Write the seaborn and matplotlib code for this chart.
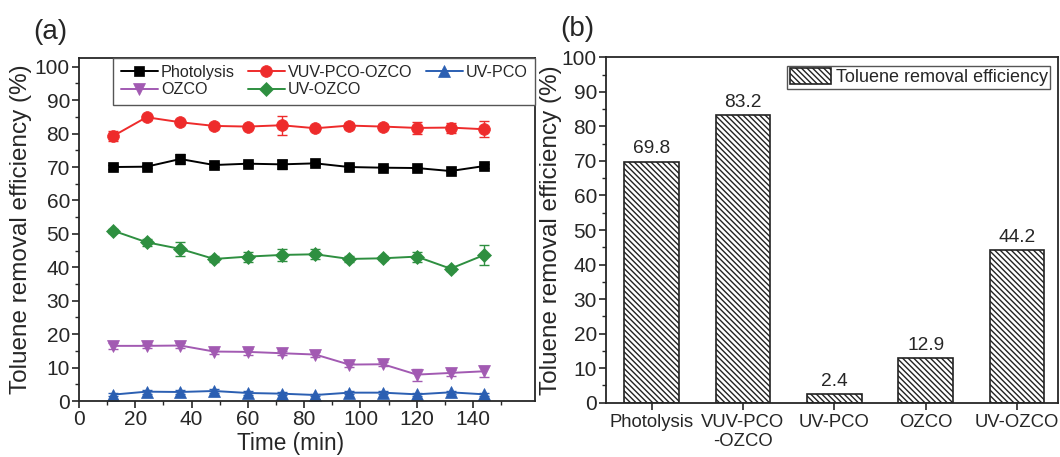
import numpy as np
import pandas as pd
import matplotlib
matplotlib.use("Agg")
import matplotlib.pyplot as plt
from matplotlib.patches import Patch
import seaborn as sns

# ---------------- data ----------------
time_min = [12, 24, 36, 48, 60, 72, 84, 96, 108, 120, 132, 144]

photolysis = [70.0, 70.1, 72.4, 70.6, 71.0, 70.8, 71.1, 70.0, 69.8, 69.7, 68.8, 70.3]
photolysis_err = [0.5, 0.5, 1.6, 0.6, 0.5, 1.3, 0.5, 0.5, 0.4, 0.4, 0.4, 0.5]

vuv_pco_ozco = [79.2, 84.9, 83.4, 82.3, 82.1, 82.5, 81.6, 82.4, 82.1, 81.7, 81.8, 81.3]
vuv_pco_ozco_err = [1.5, 0.8, 0.6, 0.8, 0.6, 2.9, 0.6, 0.9, 0.8, 1.7, 1.5, 2.4]

uv_pco = [1.9, 2.8, 2.7, 3.0, 2.4, 2.2, 1.8, 2.5, 2.5, 2.0, 2.6, 2.0]
uv_pco_err = [0.4, 0.6, 0.6, 0.6, 0.5, 0.4, 0.4, 0.5, 0.5, 0.4, 0.5, 0.4]

ozco = [16.5, 16.5, 16.6, 14.8, 14.7, 14.3, 13.9, 10.9, 11.0, 7.9, 8.4, 8.9]
ozco_err = [0.8, 0.7, 0.8, 0.8, 0.8, 0.6, 0.7, 0.6, 0.6, 1.8, 0.8, 1.7]

uv_ozco = [51.0, 47.5, 45.5, 42.5, 43.2, 43.7, 43.9, 42.5, 42.7, 43.2, 39.6, 43.7]
uv_ozco_err = [0.6, 1.0, 2.0, 0.8, 1.5, 1.7, 1.5, 0.8, 0.6, 1.5, 0.8, 2.9]

bar_categories = ["Photolysis", "VUV-PCO\n-OZCO", "UV-PCO", "OZCO", "UV-OZCO"]
bar_values = [69.8, 83.2, 2.4, 12.9, 44.2]

series_names = ["Photolysis", "VUV-PCO-OZCO", "UV-PCO", "OZCO", "UV-OZCO"]
series_vals = [photolysis, vuv_pco_ozco, uv_pco, ozco, uv_ozco]
series_errs = [photolysis_err, vuv_pco_ozco_err, uv_pco_err, ozco_err, uv_ozco_err]
series_colors = ["#000000", "#ee2b2b", "#2b5fb2", "#a25ab2", "#2e8f40"]
series_markers = ["s", "o", "^", "v", "D"]
series_msize = [7.5, 8.5, 8, 8, 7.5]

HATCH = "\\\\\\\\\\\\"

# ---------------- style ----------------
sns.set_style("ticks")
plt.rcParams["font.family"] = ["Liberation Sans", "DejaVu Sans"]
plt.rcParams["hatch.linewidth"] = 1.0
plt.rcParams["axes.linewidth"] = 1.3

fig = plt.figure(figsize=(10.6, 4.57), dpi=100)
ax1 = fig.add_axes([0.0745, 0.1225, 0.4302, 0.7512])
ax2 = fig.add_axes([0.5717, 0.1188, 0.4264, 0.7558])

# ---------------- panel (a) ----------------
for name, vals, errs, col, mk, ms in zip(series_names, series_vals, series_errs,
                                          series_colors, series_markers, series_msize):
    df = pd.DataFrame({"time": time_min, "value": vals})
    sns.lineplot(data=df, x="time", y="value", ax=ax1, color=col, marker=mk,
                 markersize=ms, markeredgecolor=col, markeredgewidth=0.5,
                 linewidth=1.4, label=name, errorbar=None)
    ax1.errorbar(time_min, vals, yerr=errs, fmt="none", ecolor=col,
                 elinewidth=1.0, capsize=3.5, capthick=1.0, zorder=1)

h, l = ax1.get_legend_handles_labels()
hd = dict(zip(l, h))
order = ["Photolysis", "OZCO", "VUV-PCO-OZCO", "UV-OZCO", "UV-PCO"]
leg1 = ax1.legend([hd[k] for k in order], order, ncol=3, loc="upper right",
                  bbox_to_anchor=(1.0, 1.0), borderaxespad=0.0, fontsize=11.6,
                  frameon=True, fancybox=False, framealpha=1, edgecolor="#555555",
                  handlelength=2.3, handletextpad=0.2, columnspacing=0.8,
                  labelspacing=0.15, borderpad=0.45)
leg1.get_frame().set_linewidth(1.0)

ax1.set_xlim(0, 162)
ax1.set_ylim(0, 102.7)
ax1.set_xticks([v for v in range(0, 160, 20)])
ax1.set_xticks([v for v in range(10, 160, 20)], minor=True)
ax1.set_yticks([v for v in range(0, 101, 10)])
ax1.set_yticks([v for v in range(5, 101, 10)], minor=True)
ax1.tick_params(axis="both", which="major", direction="out", length=5, width=1.2,
                labelsize=15, pad=1.5)
ax1.tick_params(axis="both", which="minor", direction="out", length=3, width=1.0)
ax1.set_xlabel("Time (min)", fontsize=16.3)
ax1.set_ylabel("Toluene removal efficiency (%)", fontsize=17.5)
ax1.xaxis.set_label_coords(0.465, -0.09)
ax1.yaxis.set_label_coords(-0.103, 0.5)
for s in ax1.spines.values():
    s.set_visible(True)
    s.set_linewidth(1.3)

# ---------------- panel (b) ----------------
dfb = pd.DataFrame({"cat": bar_categories, "val": bar_values})
sns.barplot(data=dfb, x="cat", y="val", ax=ax2, color="white", width=0.6,
            edgecolor="#222222", linewidth=1.2, hatch=HATCH, errorbar=None)
for p in ax2.patches:
    p.set_facecolor("white")
    p.set_hatch(HATCH)

for i, v in enumerate(bar_values):
    ax2.text(i, v + 1.2, f"{v:.1f}", ha="center", va="bottom", fontsize=13.8)

ax2.set_xlim(-0.5, 4.45)
ax2.set_ylim(0, 100)
ax2.set_yticks([v for v in range(0, 101, 10)])
ax2.set_yticks([v for v in range(5, 101, 10)], minor=True)
ax2.tick_params(axis="both", which="major", direction="out", length=5, width=1.2,
                labelsize=15, pad=1.5)
ax2.tick_params(axis="y", which="minor", direction="out", length=3, width=1.0)
ax2.tick_params(axis="x", labelsize=13.3, pad=3)
ax2.set_xlabel("")
ax2.set_ylabel("Toluene removal efficiency (%)", fontsize=17.5)
ax2.yaxis.set_label_coords(-0.097, 0.5)
for s in ax2.spines.values():
    s.set_visible(True)
    s.set_linewidth(1.3)

hpatch = Patch(facecolor="white", edgecolor="#222222", hatch=HATCH,
               linewidth=1.2, label="Toluene removal efficiency")
leg2 = ax2.legend(handles=[hpatch], loc="upper right", bbox_to_anchor=(0.982, 0.975),
                  borderaxespad=0.0, fontsize=13, frameon=True, fancybox=False,
                  framealpha=1, edgecolor="#555555", handlelength=2.3,
                  handleheight=1.0, handletextpad=0.25, borderpad=0.12)
leg2.get_frame().set_linewidth(1.0)

# panel labels
fig.text(0.047, 0.93, "(a)", fontsize=20, ha="center", va="center")
fig.text(0.545, 0.937, "(b)", fontsize=20, ha="center", va="center")

fig.savefig("out.png", dpi=100)
